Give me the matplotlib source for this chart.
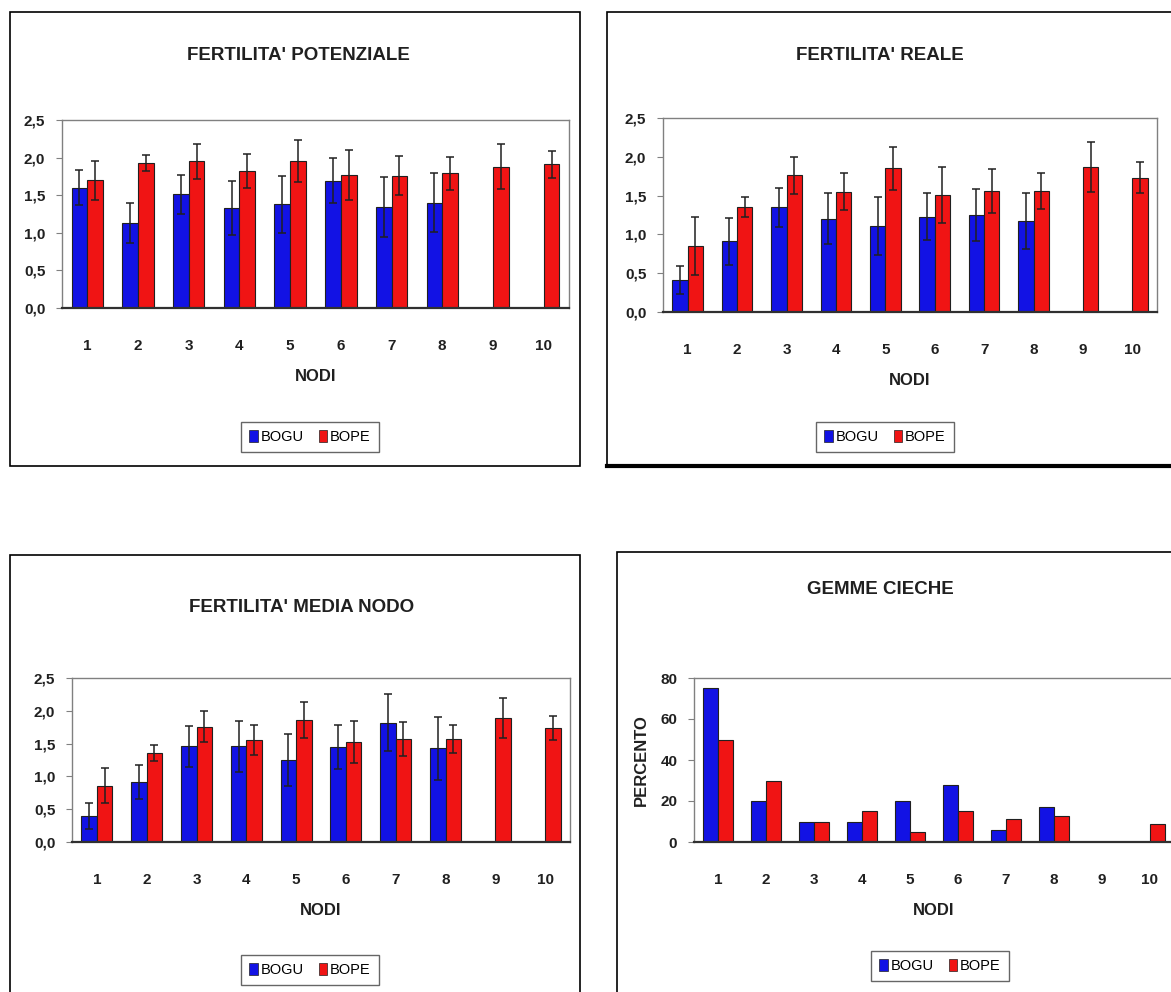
import numpy as np
import matplotlib
matplotlib.use("Agg")
import matplotlib.pyplot as plt
from matplotlib.patches import Rectangle, Patch

plt.rcParams['font.family'] = ['Liberation Sans Narrow', 'Liberation Sans', 'DejaVu Sans']

# Data
nodi = ["1", "2", "3", "4", "5", "6", "7", "8", "9", "10"]
series_names = ["BOGU", "BOPE"]

# FERTILITA' POTENZIALE
pot_bogu = [1.60, 1.13, 1.51, 1.33, 1.38, 1.69, 1.34, 1.40, np.nan, np.nan]
pot_bogu_err = [0.23, 0.27, 0.26, 0.36, 0.38, 0.30, 0.40, 0.39, np.nan, np.nan]
pot_bope = [1.70, 1.93, 1.95, 1.82, 1.95, 1.77, 1.76, 1.79, 1.88, 1.91]
pot_bope_err = [0.26, 0.11, 0.23, 0.23, 0.28, 0.33, 0.26, 0.22, 0.30, 0.18]

# FERTILITA' REALE
real_bogu = [0.41, 0.91, 1.35, 1.20, 1.11, 1.23, 1.25, 1.17, np.nan, np.nan]
real_bogu_err = [0.18, 0.30, 0.25, 0.33, 0.37, 0.30, 0.34, 0.36, np.nan, np.nan]
real_bope = [0.85, 1.35, 1.76, 1.55, 1.85, 1.51, 1.56, 1.56, 1.87, 1.73]
real_bope_err = [0.37, 0.13, 0.24, 0.24, 0.28, 0.36, 0.28, 0.23, 0.32, 0.20]

# FERTILITA' MEDIA NODO
med_bogu = [0.40, 0.91, 1.46, 1.46, 1.25, 1.45, 1.82, 1.43, np.nan, np.nan]
med_bogu_err = [0.20, 0.26, 0.31, 0.39, 0.40, 0.34, 0.43, 0.48, np.nan, np.nan]
med_bope = [0.86, 1.36, 1.76, 1.55, 1.86, 1.52, 1.57, 1.57, 1.89, 1.74]
med_bope_err = [0.27, 0.12, 0.23, 0.23, 0.27, 0.32, 0.26, 0.22, 0.30, 0.18]

# GEMME CIECHE (percento)
cie_bogu = [75, 20, 10, 10, 20, 28, 6, 17, 0, 0]
cie_bope = [50, 30, 10, 15, 5, 15, 11, 12.5, 0, 9]

BLUE = "#1212e4"
RED = "#f01414"
W, H = 1171, 992

fig = plt.figure(figsize=(W / 100, H / 100), dpi=100)
fig.patch.set_facecolor("white")


def px_axes(x0, y0, x1, y1):
    return fig.add_axes([x0 / W, 1 - y1 / H, (x1 - x0) / W, (y1 - y0) / H])


def frame(x0, y0, x1, y1, lw=1.2, bottom_lw=None):
    fig.add_artist(Rectangle((x0 / W, 1 - y1 / H), (x1 - x0) / W, (y1 - y0) / H,
                             transform=fig.transFigure, fill=False,
                             edgecolor="black", lw=lw, clip_on=False))
    if bottom_lw:
        fig.add_artist(plt.Line2D([x0 / W, x1 / W], [1 - y1 / H, 1 - y1 / H],
                                  transform=fig.transFigure, color="black", lw=bottom_lw))


def bar_panel(ax, bogu, bope, bogu_err=None, bope_err=None, ymax=2.5, step=0.5, fmt="{:.1f}"):
    x = np.arange(len(nodi))
    w = 0.31
    ax.bar(x - w / 2, bogu, w, color=BLUE, edgecolor="#202020", lw=0.8, zorder=2)
    ax.bar(x + w / 2, bope, w, color=RED, edgecolor="#202020", lw=0.8, zorder=2)
    if bogu_err is not None:
        ax.errorbar(x - w / 2, bogu, yerr=bogu_err, fmt="none", ecolor="#202020",
                    elinewidth=1.1, capsize=3, capthick=1.1, zorder=3)
        ax.errorbar(x + w / 2, bope, yerr=bope_err, fmt="none", ecolor="#202020",
                    elinewidth=1.1, capsize=3, capthick=1.1, zorder=3)
    ax.set_xlim(-0.5, len(nodi) - 0.5)
    ax.set_ylim(0, ymax)
    ax.set_xticks(x)
    ax.set_xticklabels(nodi, fontsize=11, fontweight="bold", color="#202020")
    yt = np.arange(0, ymax + step / 2, step)
    ax.set_yticks(yt)
    ax.set_yticklabels([fmt.format(v).replace(".", ",") for v in yt],
                       fontsize=11, fontweight="bold", color="#202020")
    ax.tick_params(axis="x", length=0, pad=22)
    ax.tick_params(axis="y", length=4, width=0.8, color="#808080", pad=8)
    for s in ["top", "right", "left"]:
        ax.spines[s].set_color("#808080")
        ax.spines[s].set_linewidth(1.0)
    ax.spines["bottom"].set_color("#303030")
    ax.spines["bottom"].set_linewidth(1.6)
    ax.set_xlabel("NODI", fontsize=12, fontweight="bold", color="#202020", labelpad=12)


def legend_at(cx, cy):
    handles = [Patch(facecolor=BLUE, edgecolor="#202020", lw=0.5),
               Patch(facecolor=RED, edgecolor="#202020", lw=0.5)]
    leg = fig.legend(handles, series_names, loc="center", bbox_to_anchor=(cx / W, 1 - cy / H),
                     ncol=2, fontsize=10.5, frameon=True, fancybox=False, handlelength=0.6,
                     handleheight=0.8, handletextpad=0.2, columnspacing=1.0, borderpad=0.55)
    leg.get_frame().set_edgecolor("#404040")
    leg.get_frame().set_linewidth(1.0)


# Panel frames
frame(10, 12, 580, 466)
frame(607, 12, 1190, 466, bottom_lw=3)
frame(10, 555, 580, 1000)
frame(617, 552, 1190, 1000)

# Top-left
ax1 = px_axes(62, 120, 569, 308)
bar_panel(ax1, pot_bogu, pot_bope, pot_bogu_err, pot_bope_err)
fig.text(298 / W, 1 - 55 / H, "FERTILITA' POTENZIALE", ha="center", va="center",
         fontsize=13.5, fontweight="bold", color="#202020")
legend_at(310, 437)

# Top-right
ax2 = px_axes(663, 118, 1157, 312)
bar_panel(ax2, real_bogu, real_bope, real_bogu_err, real_bope_err)
fig.text(880 / W, 1 - 55 / H, "FERTILITA' REALE", ha="center", va="center",
         fontsize=13.5, fontweight="bold", color="#202020")
legend_at(885, 437)

# Bottom-left
ax3 = px_axes(72, 678, 570, 842)
bar_panel(ax3, med_bogu, med_bope, med_bogu_err, med_bope_err)
fig.text(302 / W, 1 - 608 / H, "FERTILITA' MEDIA NODO", ha="center", va="center",
         fontsize=13.5, fontweight="bold", color="#202020")
legend_at(310, 970)

# Bottom-right
ax4 = px_axes(694, 678, 1174, 842)
bar_panel(ax4, cie_bogu, cie_bope, ymax=80, step=20, fmt="{:.0f}")
ax4.set_ylabel("PERCENTO", fontsize=12, fontweight="bold", color="#202020", labelpad=8)
fig.text(880 / W, 1 - 590 / H, "GEMME CIECHE", ha="center", va="center",
         fontsize=13.5, fontweight="bold", color="#202020")
legend_at(940, 966)

fig.savefig("out.png", dpi=100, facecolor="white")
